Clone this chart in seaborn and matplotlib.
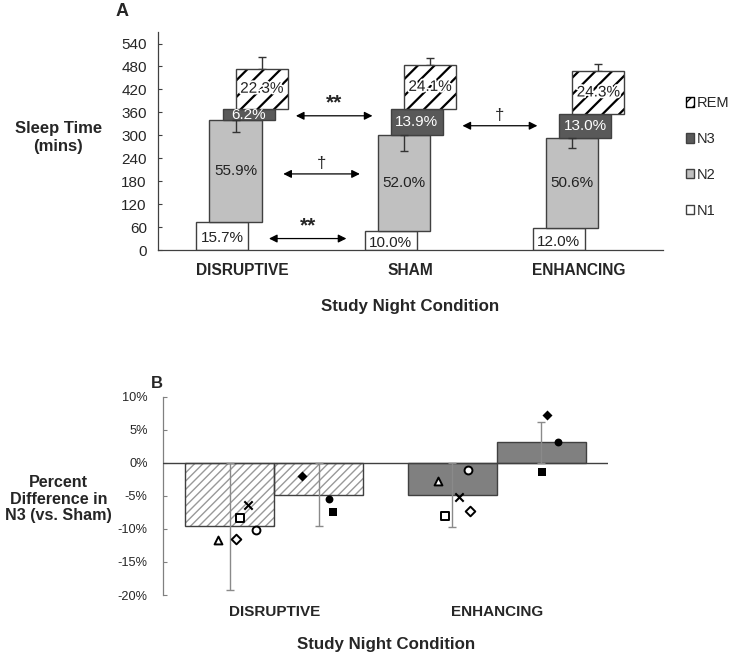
import numpy as np
import pandas as pd
import seaborn as sns
import matplotlib.pyplot as plt
import matplotlib.patheffects as pe
from matplotlib.patches import Patch

# ---- Data: panel A (minutes per stage, stacked as a staircase)

conditions_a = ["DISRUPTIVE", "SHAM", "ENHANCING"]
stages = ["N1", "N2", "N3", "REM"]
n1_mins = [74.5, 48.5, 56.3]
n2_mins = [265.0, 252.2, 237.6]
n3_mins = [29.4, 67.4, 61.0]
rem_mins = [105.7, 116.9, 114.1]
n1_err = [28, 15, 21]
n2_err = [32, 41, 27]
n3_err = [24, 21, 20]
rem_err = [29, 16, 18]
n1_pct = ["15.7%", "10.0%", "12.0%"]
n2_pct = ["55.9%", "52.0%", "50.6%"]
n3_pct = ["6.2%", "13.9%", "13.0%"]
rem_pct = ["22.3%", "24.1%", "24.3%"]

# significance arrows: (x start, x end, y level, label)
sig_arrows = [(0.32, 0.775, 351, "**"),
              (0.245, 0.70, 199, "\u2020"),
              (0.16, 0.62, 30, "**"),
              (1.31, 1.755, 325, "\u2020")]

# ---- Data: panel B (percent difference in N3 vs sham)

conditions_b = ["DISRUPTIVE", "ENHANCING"]
subsets = ["open", "filled"]
bar_open = [-9.6, -4.9]
bar_filled = [-4.8, 3.1]
err_open = [9.6, 4.85]
err_filled = [4.8, 3.1]

open_markers = ["^", "D", "s", "x", "o"]
disruptive_open = [-11.7, -11.5, -8.3, -6.45, -10.2]
enhancing_open = [-2.8, -7.3, -8.1, -5.1, -1.1]
filled_markers = ["D", "o", "s"]
disruptive_filled = [-1.97, -5.4, -7.4]
enhancing_filled = [7.2, 3.2, -1.4]

# horizontal spread of individual points around each bar centre
open_jitter = [[-0.055, 0.027, 0.047, 0.082, 0.116],
               [-0.067, 0.079, -0.033, 0.031, 0.072]]
filled_jitter = [[-0.075, 0.046, 0.065],
                 [0.024, 0.074, 0.004]]

# ---- Style

sns.set_theme(style="white")
plt.rcParams["font.family"] = ["Liberation Sans", "DejaVu Sans"]
plt.rcParams["hatch.linewidth"] = 1.0

EDGE = "#404040"
stage_colors = {"N1": "white", "N2": "#c0c0c0", "N3": "#595959", "REM": "white"}

fig = plt.figure(figsize=(7.38, 6.54), dpi=100)
ax_a = fig.add_axes([0.214, 0.6177, 0.684, 0.3333])
ax_b = fig.add_axes([0.2209, 0.0902, 0.6033, 0.3032])


def hatched_bar(ax, x, h, w, bottom, layers):
    """Draw a bar filled with one or more hatch layers plus an outline."""
    for hatch, color, lw in layers:
        with plt.rc_context({"hatch.linewidth": lw}):
            bars = ax.bar(x, h, w, bottom=bottom, color="white", edgecolor=color,
                          hatch=hatch, linewidth=0, zorder=2)
        for p in bars:
            if hasattr(p, "set_hatch_linewidth"):
                p.set_hatch_linewidth(lw)
    ax.bar(x, h, w, bottom=bottom, fill=False, edgecolor=EDGE, linewidth=1, zorder=3)


# ---- Panel A

mins = {"N1": n1_mins, "N2": n2_mins, "N3": n3_mins, "REM": rem_mins}
errs = {"N1": n1_err, "N2": n2_err, "N3": n3_err, "REM": rem_err}
pcts = {"N1": n1_pct, "N2": n2_pct, "N3": n3_pct, "REM": rem_pct}
err_dir = {"N1": 1, "N2": -1, "N3": 1, "REM": 1}
rem_layers = [("////", "#c4c4c4", 1.2), ("//", "black", 1.6)]

width_a = 0.31
offsets = [-0.117, -0.039, 0.039, 0.117]
xpos = np.arange(len(conditions_a))
bottom = np.zeros(len(conditions_a))

for stage, off in zip(stages, offsets):
    vals = np.array(mins[stage])
    x = xpos + off
    if stage == "REM":
        hatched_bar(ax_a, x, vals, width_a, bottom, rem_layers)
    else:
        ax_a.bar(x, vals, width_a, bottom=bottom, color=stage_colors[stage],
                 edgecolor=EDGE, linewidth=1, zorder=2)
    top = bottom + vals
    e = np.array(errs[stage])
    if err_dir[stage] > 0:
        ax_a.errorbar(x, top, yerr=[np.zeros_like(e), e], fmt="none", ecolor="#333333",
                      elinewidth=1, capsize=3, capthick=1, zorder=1)
    else:
        ax_a.errorbar(x, top, yerr=[e, np.zeros_like(e)], fmt="none", ecolor="#333333",
                      elinewidth=1, capsize=3, capthick=1, zorder=4)
    txt_color = "white" if stage == "N3" else "#222222"
    effects = [pe.withStroke(linewidth=2.5, foreground="white")] if stage == "REM" else None
    for xi, b, v, lab in zip(x, bottom, vals, pcts[stage]):
        ax_a.text(xi, b + v / 2 - (6 if stage == "N1" else 0), lab, ha="center", va="center",
                  fontsize=11, color=txt_color, zorder=5, path_effects=effects)
    bottom = top

for x0, x1, y, lab in sig_arrows:
    ax_a.annotate("", xy=(x1, y), xytext=(x0, y),
                  arrowprops=dict(arrowstyle="<|-|>", color="black", lw=0.9,
                                  mutation_scale=12, shrinkA=0, shrinkB=0))
    ax_a.text((x0 + x1) / 2, y + 8, lab, ha="center", va="bottom",
              fontsize=15 if lab == "**" else 12, fontweight="bold" if lab == "**" else "normal")

ax_a.set_xlim(-0.5, 2.5)
ax_a.set_ylim(0, 570)
ax_a.set_yticks(np.arange(0, 541, 60))
ax_a.set_xticks(xpos)
ax_a.set_xticklabels(conditions_a, fontsize=11.2, fontweight="bold")
ax_a.tick_params(axis="y", direction="in", length=3, width=0.8, color="#404040",
                 labelsize=11, pad=8, left=True)
ax_a.tick_params(axis="x", length=0, pad=9)
for side in ["top", "right"]:
    ax_a.spines[side].set_visible(False)
for side in ["left", "bottom"]:
    ax_a.spines[side].set_color("#404040")
    ax_a.spines[side].set_linewidth(0.9)

handles = [Patch(facecolor="white", edgecolor="black", hatch="///", label="REM"),
           Patch(facecolor=stage_colors["N3"], edgecolor=EDGE, label="N3"),
           Patch(facecolor=stage_colors["N2"], edgecolor=EDGE, label="N2"),
           Patch(facecolor=stage_colors["N1"], edgecolor=EDGE, label="N1")]
fig.legend(handles=handles, loc="upper left", bbox_to_anchor=(0.929, 0.853), frameon=False,
           fontsize=10.5, handlelength=0.6, handleheight=0.6, handletextpad=0.15,
           labelspacing=1.5, borderpad=0, borderaxespad=0)

fig.text(0.079, 0.790, "Sleep Time\n(mins)", ha="center", va="center", fontsize=12,
         fontweight="bold", linespacing=1.2)
fig.text(0.165, 0.982, "A", ha="center", va="center", fontsize=13, fontweight="bold")
fig.text(0.556, 0.532, "Study Night Condition", ha="center", va="center", fontsize=12.2,
         fontweight="bold")

# ---- Panel B

df_b = pd.DataFrame({
    "condition": conditions_b * 2,
    "subset": [subsets[0]] * 2 + [subsets[1]] * 2,
    "value": bar_open + bar_filled,
})
sns.barplot(data=df_b, x="condition", y="value", hue="subset", order=conditions_b,
            hue_order=subsets, dodge=True, width=0.8, errorbar=None, legend=False,
            ax=ax_b, zorder=2)

bar_patches = list(ax_b.patches)[:4]
bar_errs = err_open + err_filled
centers = []
for i, p in enumerate(bar_patches):
    cond_idx = i % 2
    cx = p.get_x() + p.get_width() / 2
    centers.append(cx)
    if cond_idx == 0:
        p.set_facecolor("white")
        p.set_edgecolor("#999999")
        p.set_hatch("////")
        p.set_linewidth(0)
        ax_b.bar(cx, p.get_height(), p.get_width(), fill=False, edgecolor=EDGE,
                 linewidth=1, zorder=3)
    else:
        p.set_facecolor("#808080")
        p.set_edgecolor(EDGE)
        p.set_linewidth(1)
    ax_b.errorbar(cx, p.get_height(), yerr=bar_errs[i], fmt="none", ecolor="#8a8a8a",
                  elinewidth=1, capsize=3, capthick=1, zorder=4)

open_vals = [disruptive_open, enhancing_open]
filled_vals = [disruptive_filled, enhancing_filled]
for c in range(2):
    cx_open = centers[c]
    cx_filled = centers[c + 2]
    for m, v, j in zip(open_markers, open_vals[c], open_jitter[c]):
        if m == "x":
            ax_b.scatter(cx_open + j, v, marker=m, s=36, color="black", linewidths=1.5, zorder=5)
        else:
            ax_b.scatter(cx_open + j, v, marker=m, s=32 if m != "D" else 24, facecolor="white",
                         edgecolor="black", linewidths=1.4, zorder=5)
    for m, v, j in zip(filled_markers, filled_vals[c], filled_jitter[c]):
        ax_b.scatter(cx_filled + j, v, marker=m, s=32 if m != "D" else 26, color="black",
                     linewidths=0, zorder=5)

ax_b.axhline(0, color="#404040", linewidth=1, zorder=3)
ax_b.set_xlim(-0.5, 1.5)
ax_b.set_ylim(-20, 10)
yt = np.arange(-20, 11, 5)
ax_b.set_yticks(yt)
ax_b.set_yticklabels([f"{v}%" for v in yt])
ax_b.set_xticks([0, 1])
ax_b.set_xticklabels(conditions_b, fontsize=11, fontweight="bold")
ax_b.set_xlabel("")
ax_b.set_ylabel("")
ax_b.tick_params(axis="y", direction="in", length=3, width=0.8, color="#808080",
                 labelsize=9.2, pad=11, left=True)
ax_b.tick_params(axis="x", length=0, pad=7)
for side in ["top", "right", "bottom"]:
    ax_b.spines[side].set_visible(False)
ax_b.spines["left"].set_color("#808080")
ax_b.spines["left"].set_linewidth(0.9)

fig.text(0.079, 0.237, "Percent\nDifference in\nN3 (vs. Sham)", ha="center", va="center",
         fontsize=11.6, fontweight="bold", linespacing=1.15)
fig.text(0.213, 0.414, "B", ha="center", va="center", fontsize=12, fontweight="bold")
fig.text(0.523, 0.014, "Study Night Condition", ha="center", va="center", fontsize=12.2,
         fontweight="bold")

fig.savefig("out.png", dpi=100)
